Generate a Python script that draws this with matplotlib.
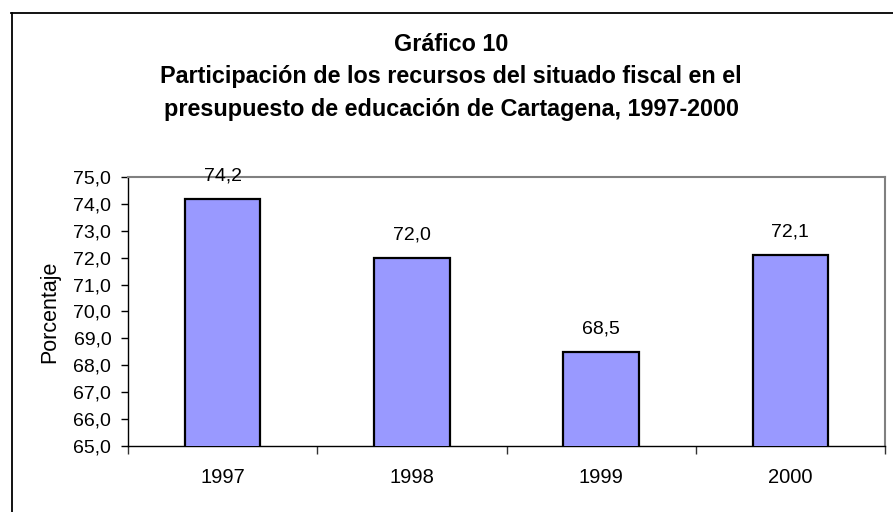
import matplotlib
matplotlib.use('Agg')
import matplotlib.pyplot as plt
from matplotlib.lines import Line2D
from matplotlib.ticker import FixedLocator, NullFormatter

plt.rcParams['font.family'] = ['Liberation Sans', 'DejaVu Sans']

years = ['1997', '1998', '1999', '2000']
values = [74.2, 72.0, 68.5, 72.1]
yticks = [65, 66, 67, 68, 69, 70, 71, 72, 73, 74, 75]

BAR = '#9999FF'
W, H = 893, 512

fig = plt.figure(figsize=(W / 100, H / 100), dpi=100)

# outer chart frame (left and top edges visible)
fig.add_artist(Line2D([11.5 / W, 11.5 / W], [0, 1 - 13 / H], color='black', lw=1.3))
fig.add_artist(Line2D([11 / W, 1], [1 - 13 / H, 1 - 13 / H], color='black', lw=1.3))

fig.text(451 / W, 1 - 77 / H,
         'Gráfico 10\nParticipación de los recursos del situado fiscal en el\n'
         'presupuesto de educación de Cartagena, 1997-2000',
         ha='center', va='center', fontsize=16.8, fontweight='bold', linespacing=1.55)

ax = fig.add_axes([128 / W, 1 - 446 / H, 757 / W, 269 / H])
x = list(range(len(years)))
ax.bar(x, values, width=0.40, color=BAR, edgecolor='black', linewidth=1.6, zorder=3)
for xi, v in zip(x, values):
    ax.annotate(f'{v:.1f}'.replace('.', ','), (xi, v), xytext=(0, 13),
                textcoords='offset points', ha='center', va='baseline', fontsize=14)

ax.set_ylim(65, 75)
ax.set_xlim(-0.5, len(years) - 0.5)
ax.set_yticks(yticks)
ax.set_yticklabels([f'{t:.1f}'.replace('.', ',') for t in yticks])
ax.xaxis.set_major_locator(FixedLocator([i - 0.5 for i in range(len(years) + 1)]))
ax.xaxis.set_major_formatter(NullFormatter())
ax.xaxis.set_minor_locator(FixedLocator(x))
ax.set_xticklabels(years, minor=True)
ax.tick_params(axis='x', which='major', direction='out', length=6, width=1, color='#333333')
ax.tick_params(axis='x', which='minor', length=0, pad=16, labelsize=14.5)
ax.tick_params(axis='y', direction='out', length=5, width=1, pad=7, labelsize=14)

ax.set_ylabel('Porcentaje', fontsize=15.5)
ax.yaxis.set_label_coords(-0.089, 0.5)

for s in ['top', 'right']:
    ax.spines[s].set_color('#808080')
    ax.spines[s].set_linewidth(1.5)
for s in ['left', 'bottom']:
    ax.spines[s].set_color('black')
    ax.spines[s].set_linewidth(1.0)

fig.savefig('out.png', dpi=100)
